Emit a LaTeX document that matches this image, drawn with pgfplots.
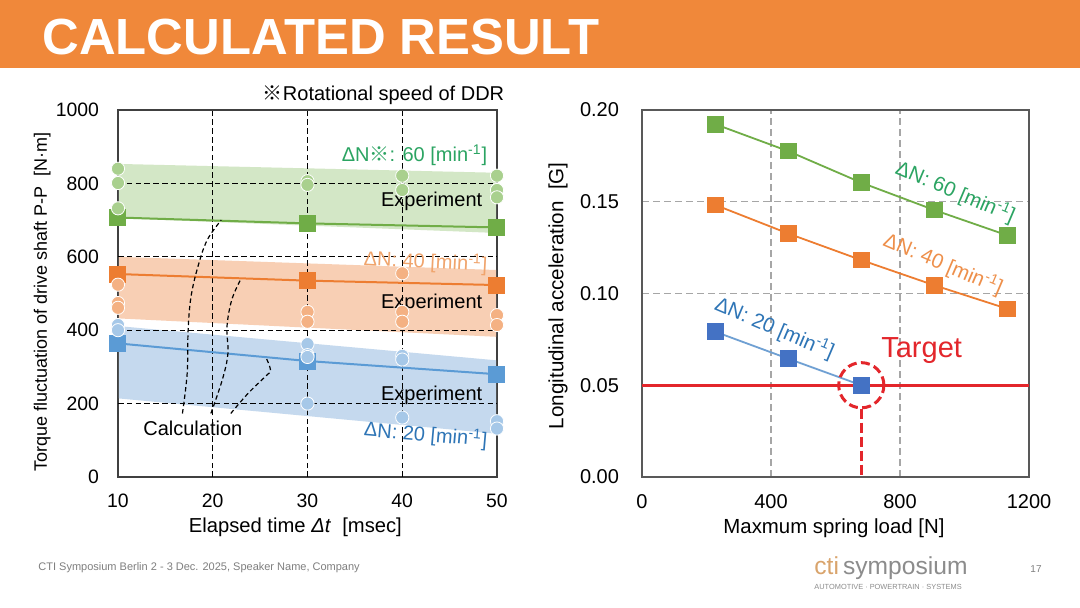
\documentclass[border=0pt]{standalone}
\usepackage{pgfplots}
\pgfplotsset{compat=1.18}
\usepackage{fontspec}
\setmainfont{Liberation Sans}
\newfontfamily\cjk{Noto Sans CJK JP}
\definecolor{hdr}{HTML}{F0883A}
\definecolor{gLine}{HTML}{70AD47}
\definecolor{gCirc}{HTML}{A9D08E}
\definecolor{gBand}{HTML}{D3E7C6}
\definecolor{gText}{HTML}{2BA462}
\definecolor{oLine}{HTML}{ED7D31}
\definecolor{oCirc}{HTML}{F4B183}
\definecolor{oBand}{HTML}{F8CFB4}
\definecolor{oText}{HTML}{F0A46C}
\definecolor{oText2}{HTML}{EE8F4A}
\definecolor{bLine}{HTML}{5B9BD5}
\definecolor{bLine2}{HTML}{6FA0D3}
\definecolor{bCirc}{HTML}{A6C8E8}
\definecolor{bBand}{HTML}{C5D9EE}
\definecolor{bText}{HTML}{2E75B6}
\definecolor{bSq}{HTML}{4472C4}
\definecolor{tgt}{HTML}{E3262B}
\definecolor{frameC}{HTML}{404040}
\definecolor{frameR}{HTML}{595959}
\definecolor{gridR}{HTML}{A6A6A6}
\definecolor{footC}{HTML}{7F7F7F}
\definecolor{ctiC}{HTML}{D9A46C}
\definecolor{symC}{HTML}{8C8C8C}
\newcommand{\fs}[1]{\fontsize{#1}{#1}\selectfont}
\newcommand{\mn}{[min\textsuperscript{-1}]}
\begin{document}
\begin{tikzpicture}
\fill[white] (0,0) rectangle (540pt,304pt);
\fill[hdr] (0,270pt) rectangle (540pt,304pt);
\node[anchor=base west, inner sep=0, text=white, font=\fs{25.4}\bfseries] at (21pt,276.5pt) {CALCULATED RESULT};
% footer
\node[anchor=base west, inner sep=0, text=footC, font=\fs{5.5}] at (19pt,18.5pt) {CTI Symposium Berlin 2 - 3 Dec. 2025, Speaker Name, Company};
\node[anchor=base west, inner sep=0, font=\fs{12.3}] at (407pt,16.5pt) {\textcolor{ctiC}{cti}\,\textcolor{symC}{symposium}};
\node[anchor=base west, inner sep=0, text=symC, font=\fs{3.7}] at (407pt,9pt) {AUTOMOTIVE · POWERTRAIN · SYSTEMS};
\node[anchor=center, inner sep=0, text=footC, font=\fs{5}] at (518pt,19.5pt) {17};

% ---------------- left chart ----------------
\begin{axis}[
 at={(59pt,65.5pt)}, anchor=south west,
 scale only axis, width=189.5pt, height=183.5pt,
 xmin=10, xmax=50, ymin=0, ymax=1000,
 xtick={10,20,30,40,50}, ytick={0,200,400,600,800,1000},
 /pgf/number format/1000 sep={},
 /pgf/number format/assume math mode=true,
 tick label style={font=\fs{9.7}},
 yticklabel style={xshift=-6pt},
 xticklabel style={yshift=-4.7pt},
 major tick length=0pt,
 axis line style={draw=frameC, line width=0.7pt},
 clip=false,
 xlabel={Elapsed time \textit{Δt}\ \ [msec]},
 ylabel={Torque fluctuation of drive shaft P-P\ \ [N·m]},
 xlabel style={at={(axis description cs:0.468,-0.136)}, anchor=center, font=\fs{10.1}},
 ylabel style={at={(axis description cs:-0.2,0.477)}, anchor=center, font=\fs{9}},
]
% bands
\addplot[draw=none, fill=gBand] coordinates {(10.1,853) (49.9,829) (49.9,665) (10.1,705)};
\addplot[draw=none, fill=oBand] coordinates {(10.1,600) (49.9,564) (49.9,382) (10.1,432)};
\addplot[draw=none, fill=bBand] coordinates {(10.1,411) (49.9,318) (49.9,118) (10.1,214)};
% dashed grid over the bands
\addplot[black, line width=0.55pt, dash pattern=on 2.8pt off 1.6pt] coordinates {(10,200) (50,200)};
\addplot[black, line width=0.55pt, dash pattern=on 2.8pt off 1.6pt] coordinates {(10,400) (50,400)};
\addplot[black, line width=0.55pt, dash pattern=on 2.8pt off 1.6pt] coordinates {(10,600) (50,600)};
\addplot[black, line width=0.55pt, dash pattern=on 2.8pt off 1.6pt] coordinates {(10,800) (50,800)};
\addplot[black, line width=0.55pt, dash pattern=on 2.8pt off 1.6pt] coordinates {(20,0) (20,1000)};
\addplot[black, line width=0.55pt, dash pattern=on 2.8pt off 1.6pt] coordinates {(30,0) (30,1000)};
\addplot[black, line width=0.55pt, dash pattern=on 2.8pt off 1.6pt] coordinates {(40,0) (40,1000)};
% calculation lines
\addplot[gLine, line width=1pt, mark=square*, mark size=3.75pt, mark options={solid}] coordinates {(10,707) (30,691) (50,680)};
\addplot[oLine, line width=1pt, mark=square*, mark size=3.75pt, mark options={solid}] coordinates {(10,553) (30,535) (50,523)};
\addplot[bLine, line width=1pt, mark=square*, mark size=3.75pt, mark options={solid}] coordinates {(10,364) (30,316) (50,280)};
% experiment points
\addplot[only marks, mark=*, mark size=3.3pt, mark options={fill=gCirc, draw=white, line width=0.4pt}] coordinates {(10,840) (10,801) (10,732) (30,806) (30,796) (40,821) (40,782) (50,821) (50,782) (50,762)};
\addplot[only marks, mark=*, mark size=3.3pt, mark options={fill=oCirc, draw=white, line width=0.4pt}] coordinates {(10,524) (10,474) (10,461) (30,450) (30,423) (40,555) (40,450) (40,423) (50,441) (50,414)};
\addplot[only marks, mark=*, mark size=3.3pt, mark options={fill=bCirc, draw=white, line width=0.4pt}] coordinates {(10,414) (10,400) (30,362) (30,332) (30,327) (30,200) (40,330) (40,320) (40,162) (50,152) (50,132)};
% calculation leaders
\addplot[black, line width=0.6pt, dash pattern=on 2.2pt off 1.5pt, smooth, tension=0.6] coordinates {(16.8,173) (17.3,282) (17.4,400) (17.7,490) (18.4,570) (19.4,645) (20.9,700)};
\addplot[black, line width=0.6pt, dash pattern=on 2.2pt off 1.5pt, smooth, tension=0.6] coordinates {(19.8,173) (21.0,264) (21.6,336) (21.5,409) (22.0,482) (22.9,536)};
\addplot[black, line width=0.6pt, dash pattern=on 2.2pt off 1.5pt, smooth, tension=0.6] coordinates {(21.9,173) (23.7,227) (25.6,275) (26.1,291) (25.6,327)};
% texts
\node[anchor=base east, inner sep=0, font=\fs{10}, xshift=3.8pt, yshift=4.7pt] at (axis cs:50,1000) {{\cjk ※}Rotational speed of DDR};
\node[anchor=east, inner sep=0, text=gText, font=\fs{10}, xshift=-4.7pt] at (axis cs:50,877) {ΔN{\cjk ※}: 60 \mn};
\node[anchor=east, inner sep=0, font=\fs{10}, xshift=-7.2pt] at (axis cs:50,752) {Experiment};
\node[anchor=east, inner sep=0, text=oText, font=\fs{10}, xshift=-4.7pt, rotate=-3] at (axis cs:50,577) {ΔN: 40 \mn};
\node[anchor=east, inner sep=0, font=\fs{10}, xshift=-7.2pt] at (axis cs:50,473) {Experiment};
\node[anchor=east, inner sep=0, font=\fs{10}, xshift=-7.2pt] at (axis cs:50,223) {Experiment};
\node[anchor=east, inner sep=0, text=bText, font=\fs{10}, xshift=-4.7pt, rotate=-5] at (axis cs:50,100) {ΔN: 20 \mn};
\node[anchor=center, inner sep=0, font=\fs{10}] at (axis cs:17.9,133) {Calculation};
\end{axis}

% ---------------- right chart ----------------
\begin{axis}[
 at={(321pt,65.5pt)}, anchor=south west,
 scale only axis, width=193.5pt, height=183.5pt,
 xmin=0, xmax=1200, ymin=0, ymax=0.2,
 xtick={0,400,800,1200}, ytick={0,0.05,0.1,0.15,0.2},
 scaled y ticks=false,
 /pgf/number format/1000 sep={},
 /pgf/number format/assume math mode=true,
 tick label style={font=\fs{10}},
 yticklabel style={/pgf/number format/.cd, fixed, fixed zerofill, precision=2, /tikz/.cd, xshift=-8pt},
 xticklabel style={yshift=-5pt},
 major tick length=0pt,
 axis line style={draw=frameR, line width=0.7pt},
 grid=major,
 major grid style={draw=gridR, line width=0.6pt, dash pattern=on 3.5pt off 2pt},
 clip=false,
 xlabel={Maxmum spring load [N]},
 ylabel={Longitudinal acceleration\ \ [G]},
 xlabel style={at={(axis description cs:0.496,-0.139)}, anchor=center, font=\fs{10.2}},
 ylabel style={at={(axis description cs:-0.217,0.494)}, anchor=center, font=\fs{10.3}},
]
\addplot[tgt, line width=1.5pt] coordinates {(0,0.05) (1200,0.05)};
\addplot[tgt, line width=1.5pt, dash pattern=on 5pt off 2pt] coordinates {(680,0.0373) (680,0)};
\addplot[gLine, line width=0.9pt, mark=square*, mark size=3.75pt, mark options={solid}] coordinates {(228,0.1922) (453,0.1776) (680,0.1604) (906,0.1455) (1134,0.1316)};
\addplot[oLine, line width=0.9pt, mark=square*, mark size=3.75pt, mark options={solid}] coordinates {(228,0.1482) (453,0.1327) (680,0.1182) (906,0.1045) (1134,0.0916)};
\addplot[bLine2, line width=0.9pt, mark=square*, mark size=3.75pt, mark options={solid, fill=bSq, draw=bSq}] coordinates {(228,0.0791) (453,0.0645) (680,0.0500)};
\addplot[only marks, mark=o, mark size=11.3pt, mark options={draw=tgt, line width=1.5pt, dash pattern=on 4.5pt off 2.2pt}] coordinates {(680,0.05)};
\node[rotate=-23, inner sep=0, text=gText, font=\fs{10.3}] at (axis cs:972,0.1552) {ΔN: 60 \mn};
\node[rotate=-23, inner sep=0, text=oText2, font=\fs{10.3}] at (axis cs:934,0.1160) {ΔN: 40 \mn};
\node[rotate=-23, inner sep=0, text=bText, font=\fs{10.3}] at (axis cs:411,0.0810) {ΔN: 20 \mn};
\node[inner sep=0, text=tgt, font=\fs{14.5}] at (axis cs:867,0.0687) {Target};
\end{axis}
\end{tikzpicture}
\end{document}
